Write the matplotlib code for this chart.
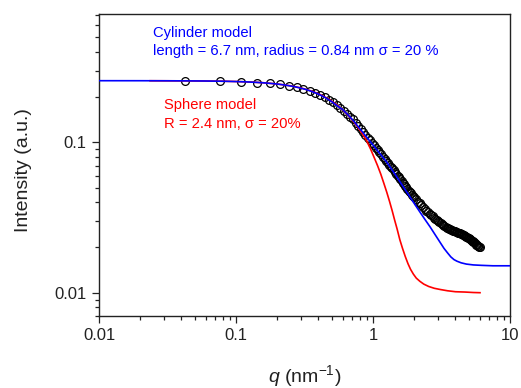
import matplotlib
matplotlib.use("Agg")
import matplotlib.pyplot as plt

plt.rcParams["font.family"] = ["Liberation Sans", "DejaVu Sans"]
plt.rcParams["mathtext.fontset"] = "custom"
plt.rcParams["mathtext.rm"] = "Liberation Sans"
plt.rcParams["mathtext.it"] = "Liberation Sans:italic"

# Measured SAXS intensity
q_data = [
    0.0425, 0.076, 0.1095, 0.143, 0.1765, 0.21, 0.2435, 0.277, 0.3105, 0.344,
    0.3775, 0.411, 0.4445, 0.478, 0.5115, 0.545, 0.5785, 0.612, 0.6455, 0.679,
    0.7125, 0.746, 0.7795, 0.813, 0.8465, 0.88, 0.9135, 0.947, 0.9805, 1.014,
    1.0475, 1.081, 1.1145, 1.148, 1.1815, 1.215, 1.2485, 1.282, 1.3155, 1.349,
    1.3825, 1.416, 1.4495, 1.483, 1.5165, 1.55, 1.5835, 1.617, 1.6505, 1.684,
    1.7175, 1.751, 1.7845, 1.818, 1.8515, 1.885, 1.9185, 1.952, 1.9855,
    2.0525, 2.1195, 2.1865, 2.2535, 2.3205, 2.3875, 2.4545, 2.5215, 2.5885,
    2.6555, 2.7225, 2.7895, 2.8565, 2.9235, 2.9905, 3.0575, 3.1245, 3.1915,
    3.2585, 3.3255, 3.3925, 3.4595, 3.5265, 3.5935, 3.6605, 3.7275, 3.7945,
    3.8615, 3.9285, 3.9955, 4.0625, 4.1295, 4.1965, 4.2635, 4.3305, 4.3975,
    4.4645, 4.5315, 4.5985, 4.6655, 4.7325, 4.7995, 4.8665, 4.9335, 5.0005,
    5.0675, 5.1345, 5.2015, 5.2685, 5.3355, 5.4025, 5.4695, 5.5365, 5.6035,
    5.6705, 5.7375, 5.8045, 5.8715, 5.9385, 6.0055,
]
I_data = [
    0.2555, 0.2543, 0.2535, 0.2496, 0.2466, 0.2423, 0.2383, 0.2326, 0.2276, 0.2202,
    0.2136, 0.2077, 0.1989, 0.1910, 0.1840, 0.1774, 0.1688, 0.1611, 0.1541, 0.1477,
    0.1419, 0.1351, 0.1286, 0.1227, 0.1172, 0.1122, 0.1076, 0.1033, 0.0993, 0.0956,
    0.0921, 0.0889, 0.0858, 0.0830, 0.0804, 0.0779, 0.0756, 0.0733, 0.0710, 0.0690,
    0.0670, 0.0651, 0.0633, 0.0616, 0.0599, 0.0584, 0.0569, 0.0554, 0.0540, 0.0527,
    0.0514, 0.0501, 0.0490, 0.0478, 0.0467, 0.0457, 0.0447, 0.0437, 0.0430,
    0.0417, 0.0404, 0.0393, 0.0382, 0.0371, 0.0361, 0.0352, 0.0343, 0.0335,
    0.0328, 0.0322, 0.0316, 0.0311, 0.0306, 0.0301, 0.0296, 0.0291, 0.0287,
    0.0283, 0.0279, 0.0275, 0.0271, 0.0268, 0.0266, 0.0265, 0.0263, 0.0261,
    0.0259, 0.0258, 0.0256, 0.0255, 0.0253, 0.0251, 0.0250, 0.0248, 0.0246,
    0.0244, 0.0243, 0.0241, 0.0239, 0.0237, 0.0236, 0.0234, 0.0232, 0.0231,
    0.0229, 0.0227, 0.0225, 0.0222, 0.0220, 0.0218, 0.0216, 0.0214, 0.0211,
    0.0209, 0.0207, 0.0205, 0.0204, 0.0202, 0.0200,
]

# Cylinder form-factor fit
q_cyl = [
    0.01, 0.02, 0.03, 0.045, 0.06, 0.08, 0.1, 0.12, 0.14, 0.16, 0.18, 0.2,
    0.23, 0.26, 0.29, 0.32, 0.36, 0.4, 0.45, 0.5, 0.55, 0.6, 0.66, 0.72,
    0.79, 0.86, 0.93, 1.0, 1.08, 1.16, 1.25, 1.35, 1.45, 1.57, 1.7, 1.85,
    2.0, 2.2, 2.4, 2.61, 2.85, 3.1, 3.3, 3.5, 3.7, 3.9, 4.1, 4.4, 4.8,
    5.4, 6.2, 7.5, 10.0,
]
I_cyl = [
    0.2568, 0.2567, 0.2565, 0.2561, 0.2556, 0.2547, 0.2535, 0.2521, 0.2504,
    0.2485, 0.2463, 0.2440, 0.2400, 0.2355, 0.2305, 0.2252, 0.2174, 0.2091,
    0.1980, 0.1863, 0.1743, 0.1651, 0.1516, 0.1390, 0.1252, 0.1137, 0.1041,
    0.0959, 0.0879, 0.0811, 0.0745, 0.0674, 0.0612, 0.0548, 0.0491, 0.0437,
    0.0392, 0.0344, 0.0306, 0.0274, 0.0242, 0.0215, 0.0197, 0.0184, 0.0173,
    0.0166, 0.0162, 0.0158, 0.0155, 0.0153, 0.0152, 0.0151, 0.0151,
]

# Sphere form-factor fit
q_sph = [
    0.0236, 0.04, 0.06, 0.08, 0.1, 0.13, 0.16, 0.2, 0.25, 0.3, 0.36, 0.42,
    0.48, 0.54, 0.6, 0.66, 0.72, 0.78, 0.84, 0.9, 0.96, 1.02, 1.08, 1.14,
    1.2, 1.26, 1.32, 1.38, 1.44, 1.5, 1.57, 1.64, 1.72, 1.8, 1.88, 1.97,
    2.07, 2.2, 2.35, 2.55, 2.8, 3.1, 3.5, 4.0, 4.7, 5.4, 6.04,
]
I_sph = [
    0.2566, 0.2562, 0.2556, 0.2548, 0.2536, 0.2514, 0.2487, 0.2442, 0.2375,
    0.2295, 0.2184, 0.2059, 0.1925, 0.1784, 0.1644, 0.1509, 0.1378, 0.1252,
    0.1132, 0.1020, 0.0902, 0.0792, 0.0699, 0.0614, 0.0534, 0.0466, 0.0405,
    0.0351, 0.0303, 0.0265, 0.0225, 0.0198, 0.0174, 0.0156, 0.0143, 0.0133,
    0.0125, 0.0119, 0.0114, 0.0110, 0.0107, 0.0105, 0.0103, 0.01015, 0.0101,
    0.01003, 0.0100,
]

W, H = 521, 388
fig = plt.figure(figsize=(W / 100, H / 100), dpi=100)
ax = fig.add_axes([99 / W, 1 - 316 / H, 411 / W, 302 / H])

ax.plot(q_data, I_data, linestyle="none", marker="o", ms=5.6, mew=0.9,
        mec="black", mfc="none", zorder=2)
ax.plot(q_sph, I_sph, color="#ff0000", lw=1.2, zorder=3)
ax.plot(q_cyl, I_cyl, color="#0000ff", lw=1.2, zorder=4)

ax.set_xscale("log")
ax.set_yscale("log")
ax.set_xlim(0.01, 10)
ax.set_ylim(0.0070, 0.713)

ax.set_xticks([0.01, 0.1, 1, 10])
ax.set_xticklabels(["0.01", "0.1", "1", "10"])
ax.set_yticks([0.01, 0.1])
ax.set_yticklabels(["0.01", "0.1"])

ax.tick_params(which="both", direction="out", top=False, right=False,
               colors="#222222", labelcolor="#222222", labelsize=12)
ax.tick_params(which="major", length=5, width=0.9, pad=4)
ax.tick_params(which="minor", length=3, width=0.9)
for s in ax.spines.values():
    s.set_linewidth(1.0)
    s.set_color("#222222")

fig.text(24 / W, 1 - 170 / H, "Intensity (a.u.)", rotation=90,
         ha="center", va="center", fontsize=14, color="#222222")
fig.text(304.5 / W, 1 - 382 / H, r"$q$ (nm$^{-1}$)", ha="center",
         va="baseline", fontsize=14, color="#222222")

fs = 10.6
fig.text(152.7 / W, 1 - 36.7 / H, "Cylinder model", color="#0000ff",
         fontsize=fs, va="baseline")
fig.text(152.7 / W, 1 - 54.5 / H,
         "length = 6.7 nm, radius = 0.84 nm \u03c3 = 20 %", color="#0000ff",
         fontsize=fs, va="baseline")
fig.text(164 / W, 1 - 109.5 / H, "Sphere model", color="#ff0000",
         fontsize=fs, va="baseline")
fig.text(164 / W, 1 - 128.3 / H, "R = 2.4 nm, \u03c3 = 20%", color="#ff0000",
         fontsize=fs, va="baseline")

fig.savefig("out.png", dpi=100)
